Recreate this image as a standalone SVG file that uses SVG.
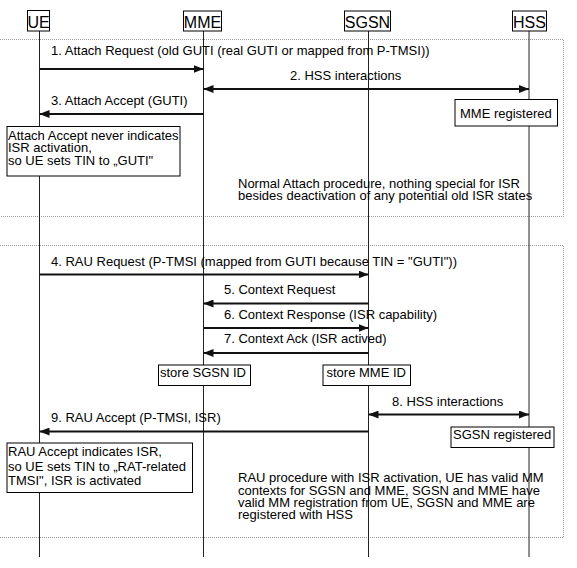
<svg xmlns="http://www.w3.org/2000/svg" width="577" height="568" viewBox="0 0 577 568">
<style>
text{font-family:"Liberation Sans",Arial,sans-serif;font-size:13px;fill:#000}
.hd{font-size:16px;text-anchor:middle}
.box{fill:#fff;stroke:#000;stroke-width:1}
.life{stroke:#222;stroke-width:1}
.frame{fill:none;stroke:#999;stroke-width:1;stroke-dasharray:1 1}
.msg{stroke:#111;stroke-width:2;fill:none;marker-end:url(#ah)}
.bi{marker-start:url(#ah)}
</style>
<defs>
<marker id="ah" markerUnits="userSpaceOnUse" markerWidth="10" markerHeight="8" refX="10" refY="4" orient="auto-start-reverse">
<path d="M0,0 L10,4 L0,8 z" fill="#111"/>
</marker>
</defs>
<rect width="577" height="568" fill="#fff"/>
<g id="frames">
<path class="frame" d="M0,39.5 H563.5 V216.5 H0"/>
<path class="frame" d="M0,245.5 H563.5 V537.5 H0"/>
</g>
<g id="lifelines">
<line class="life" x1="39.5" y1="31" x2="39.5" y2="557"/>
<line class="life" x1="203.5" y1="31" x2="203.5" y2="557"/>
<line class="life" x1="368.5" y1="31" x2="368.5" y2="557"/>
<line class="life" x1="529" y1="31" x2="529" y2="557"/>
</g>
<g id="UE"><rect class="box" x="27.5" y="10.5" width="22" height="20.5"/><text class="hd" x="38.5" y="28">UE</text></g>
<g id="MME"><rect class="box" x="183.5" y="11" width="38" height="20"/><text class="hd" x="202.5" y="28">MME</text></g>
<g id="SGSN"><rect class="box" x="344.5" y="11" width="46" height="20"/><text class="hd" x="367.5" y="28">SGSN</text></g>
<g id="HSS"><rect class="box" x="512.5" y="11" width="34" height="20"/><text class="hd" x="529.5" y="28">HSS</text></g>
<g id="connectors">
<line class="msg" x1="39.5" y1="69" x2="203.5" y2="69"/>
<line class="msg bi" x1="203.5" y1="89" x2="529" y2="89"/>
<line class="msg" x1="203.5" y1="114" x2="39.5" y2="114"/>
<line class="msg" x1="39.5" y1="274.5" x2="368.5" y2="274.5"/>
<line class="msg" x1="368.5" y1="303.5" x2="203.5" y2="303.5"/>
<line class="msg" x1="203.5" y1="328" x2="368.5" y2="328"/>
<line class="msg" x1="368.5" y1="353" x2="203.5" y2="353"/>
<line class="msg bi" x1="368.5" y1="414.5" x2="529" y2="414.5"/>
<line class="msg" x1="368.5" y1="431.5" x2="39.5" y2="431.5"/>
</g>
<g id="labels">
<text x="51" y="55">1. Attach Request (old GUTI (real GUTI or mapped from P-TMSI))</text>
<text x="290" y="80">2. HSS interactions</text>
<text x="51" y="104.5">3. Attach Accept (GUTI)</text>
<text x="51" y="265.5">4. RAU Request (P-TMSI (mapped from GUTI because TIN = "GUTI"))</text>
<text x="224" y="294">5. Context Request</text>
<text x="224" y="319">6. Context Response (ISR capability)</text>
<text x="224" y="343">7. Context Ack (ISR actived)</text>
<text x="392" y="406">8. HSS interactions</text>
<text x="51" y="422">9. RAU Accept (P-TMSI, ISR)</text>
</g>
<g id="note-attach">
<rect class="box" x="7" y="126.5" width="173" height="49.5"/>
<text x="8" y="139.5">Attach Accept never indicates</text>
<text x="8" y="152">ISR activation,</text>
<text x="8" y="165">so UE sets TIN to „GUTI"</text>
</g>
<g id="mme-registered">
<rect class="box" x="455" y="99.5" width="102.5" height="26.5"/>
<text x="460" y="118">MME registered</text>
</g>
<g id="normal-attach-text">
<text x="238" y="188">Normal Attach procedure, nothing special for ISR</text>
<text x="238" y="200">besides deactivation of any potential old ISR states</text>
</g>
<g id="store-sgsn-id">
<rect class="box" x="158.5" y="365" width="92" height="20.5"/>
<text x="160" y="376.5">store SGSN ID</text>
</g>
<g id="store-mme-id">
<rect class="box" x="323" y="365" width="87.5" height="20.5"/>
<text x="326.5" y="376.5">store MME ID</text>
</g>
<g id="sgsn-registered">
<rect class="box" x="451" y="427" width="103" height="20.5"/>
<text x="453" y="439">SGSN registered</text>
</g>
<g id="note-rau">
<rect class="box" x="7" y="443" width="185.5" height="49.5"/>
<text x="8" y="455.5">RAU Accept indicates ISR,</text>
<text x="8" y="470.5">so UE sets TIN to „RAT-related</text>
<text x="8" y="485">TMSI", ISR is activated</text>
</g>
<g id="rau-text">
<text x="238" y="482">RAU procedure with ISR activation, UE has valid MM</text>
<text x="238" y="494.5">contexts for SGSN and MME, SGSN and MME have</text>
<text x="238" y="506.5">valid MM registration from UE, SGSN and MME are</text>
<text x="238" y="518.5">registered with HSS</text>
</g>
</svg>
